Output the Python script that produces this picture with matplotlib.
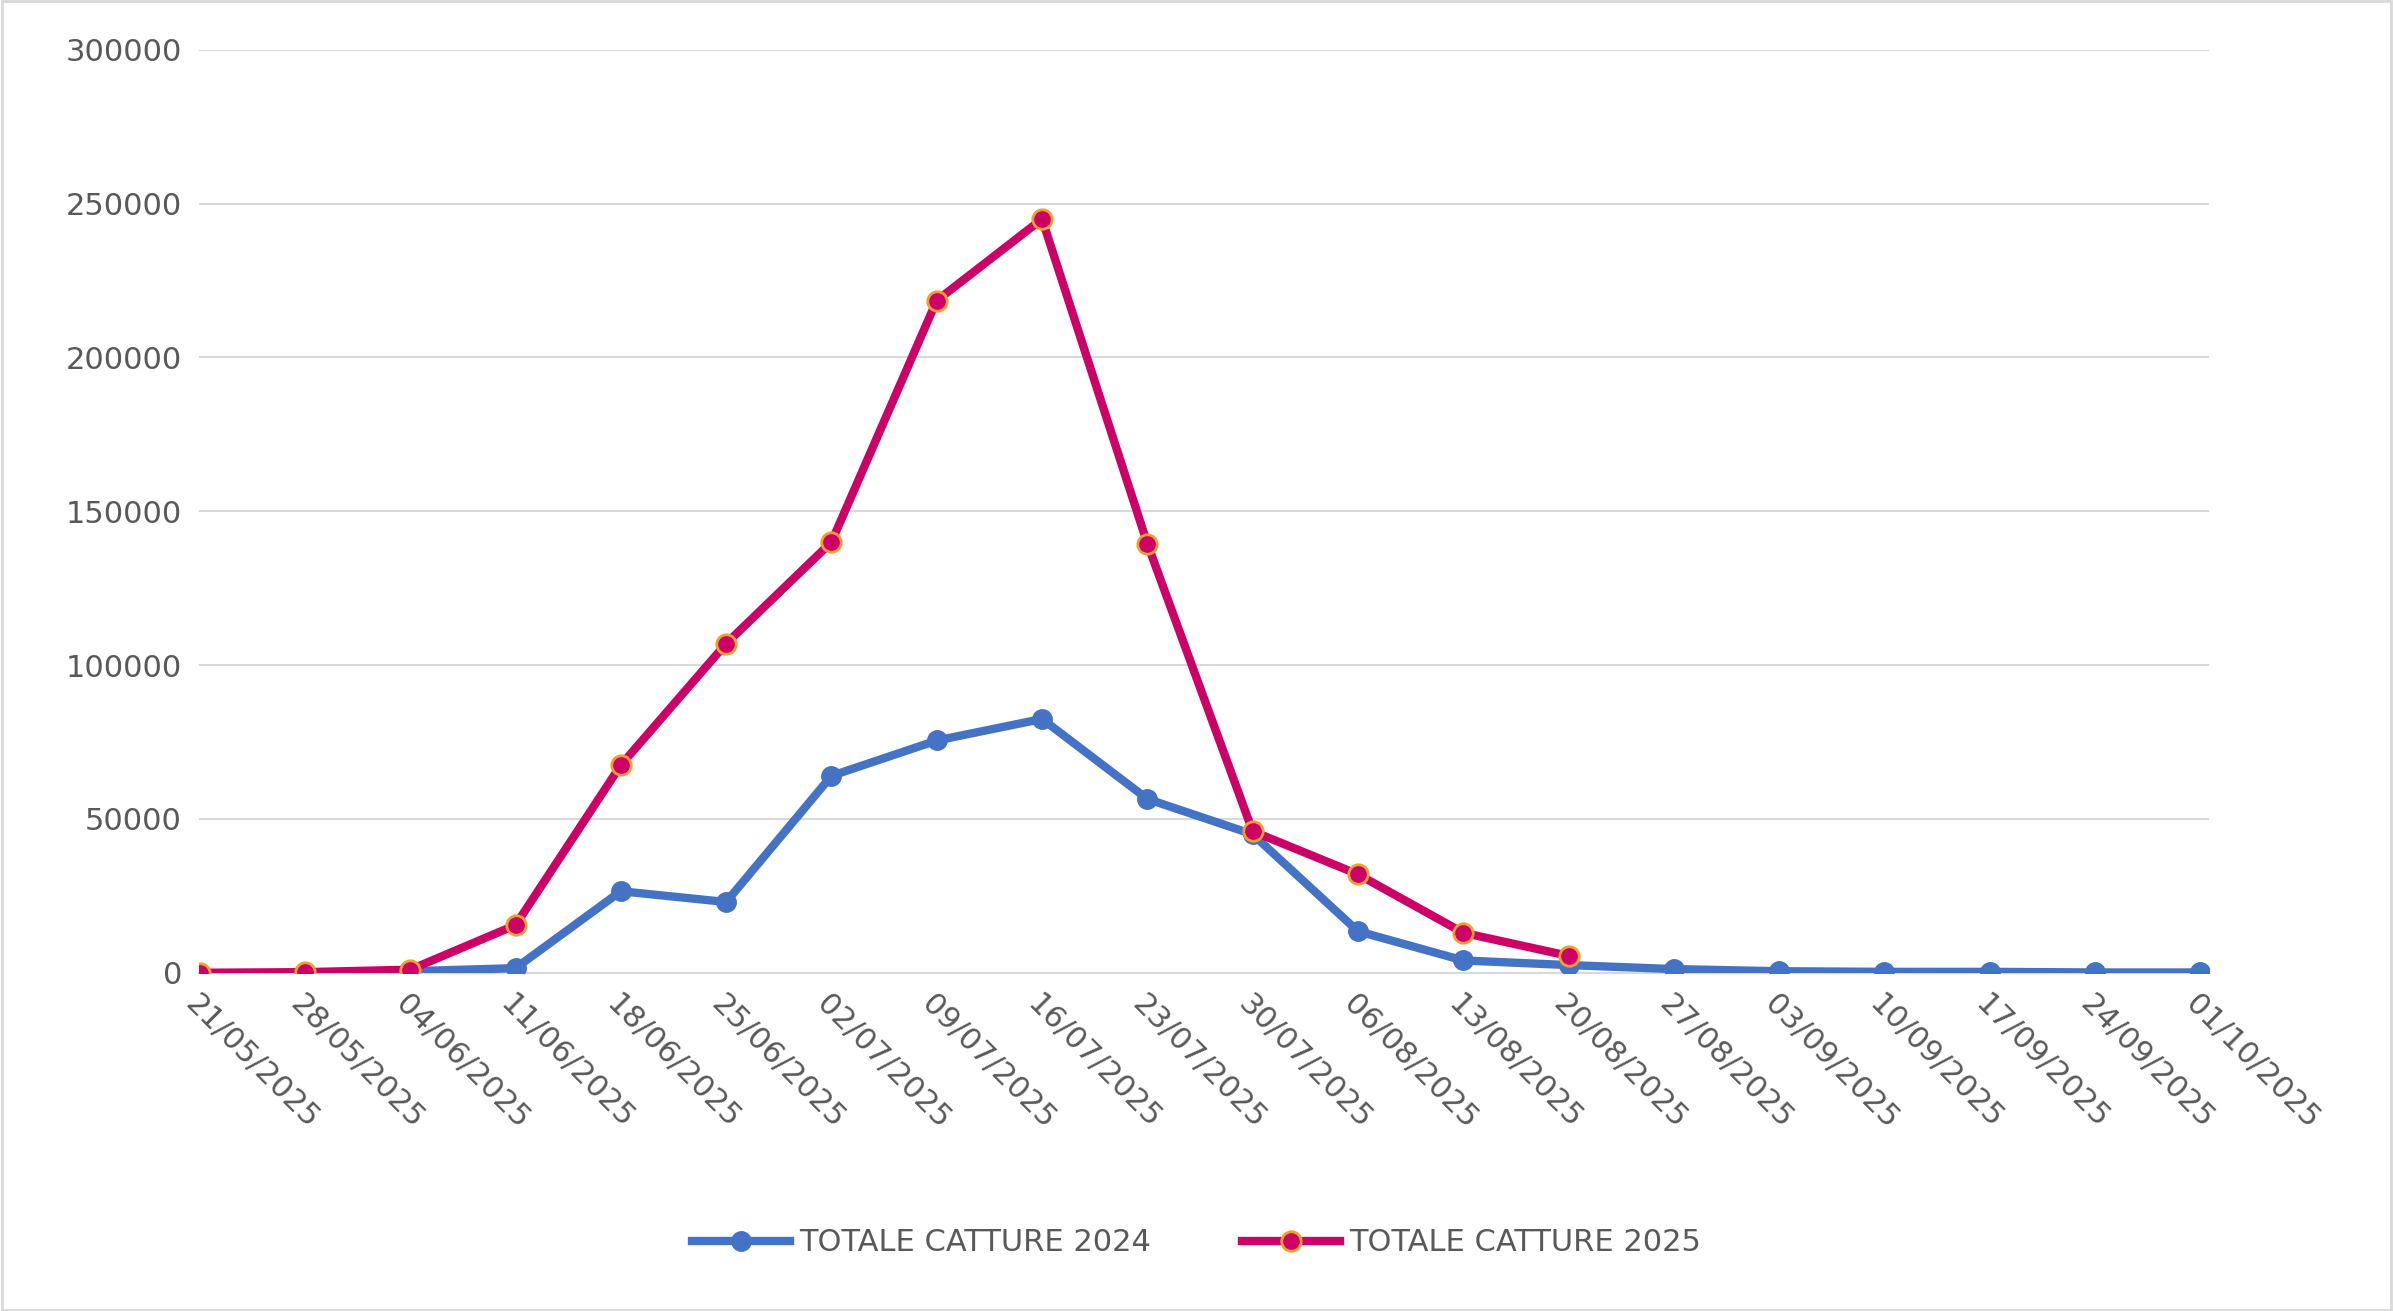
import matplotlib.pyplot as plt
import numpy as np

dates = ["21/05/2025", "28/05/2025", "04/06/2025", "11/06/2025", "18/06/2025",
         "25/06/2025", "02/07/2025", "09/07/2025", "16/07/2025", "23/07/2025",
         "30/07/2025", "06/08/2025", "13/08/2025", "20/08/2025", "27/08/2025",
         "03/09/2025", "10/09/2025", "17/09/2025", "24/09/2025", "01/10/2025"]
catture_2024 = [np.nan, np.nan, 500, 1500, 26500, 23000, 64000, 75500, 82500, 56500,
                45000, 13500, 4000, 2500, 1200, 500, 300, 300, 100, 100]
catture_2025 = [0, 200, 1000, 15500, 67500, 107000, 140000, 218500, 245000, 139500,
                46000, 32000, 13000, 5500, np.nan, np.nan, np.nan, np.nan, np.nan, np.nan]

fig = plt.figure(figsize=(23.93, 13.11), dpi=100)
ax = fig.add_axes([0.083, 0.258, 0.84, 0.704])
x = np.arange(len(dates))
ax.plot(x, catture_2024, color="#4472C4", lw=6, marker="o", ms=14,
        label="TOTALE CATTURE 2024", zorder=3)
ax.plot(x, catture_2025, color="#CC0066", lw=6, marker="o", ms=14,
        mfc="#CC0066", mec="#F0A030", mew=2, label="TOTALE CATTURE 2025", zorder=4)

ax.set_ylim(0, 300000)
ax.set_xlim(-0.01, 19.08)
ax.set_yticks(range(0, 300001, 50000))
ax.set_xticks(x)
ax.set_xticklabels(dates, rotation=-45, ha="left", rotation_mode="anchor")
ax.tick_params(axis="both", length=0, labelsize=22, colors="#595959", pad=12)
ax.grid(axis="y", color="#D9D9D9", lw=1.5)
ax.set_axisbelow(True)
for s in ["top", "right", "left"]:
    ax.spines[s].set_visible(False)
ax.spines["bottom"].set_color("#D9D9D9")
ax.spines["bottom"].set_linewidth(1.5)

fig.legend(loc="center", bbox_to_anchor=(0.5, 0.052), ncol=2, frameon=False,
           fontsize=22, labelcolor="#595959", handlelength=3.2, handletextpad=0.3,
           columnspacing=3)
fig.patches.append(plt.Rectangle((0.001, 0.001), 0.998, 0.998, transform=fig.transFigure,
                                 fill=False, ec="#D9D9D9", lw=2))
fig.savefig("out.png", dpi=100)
